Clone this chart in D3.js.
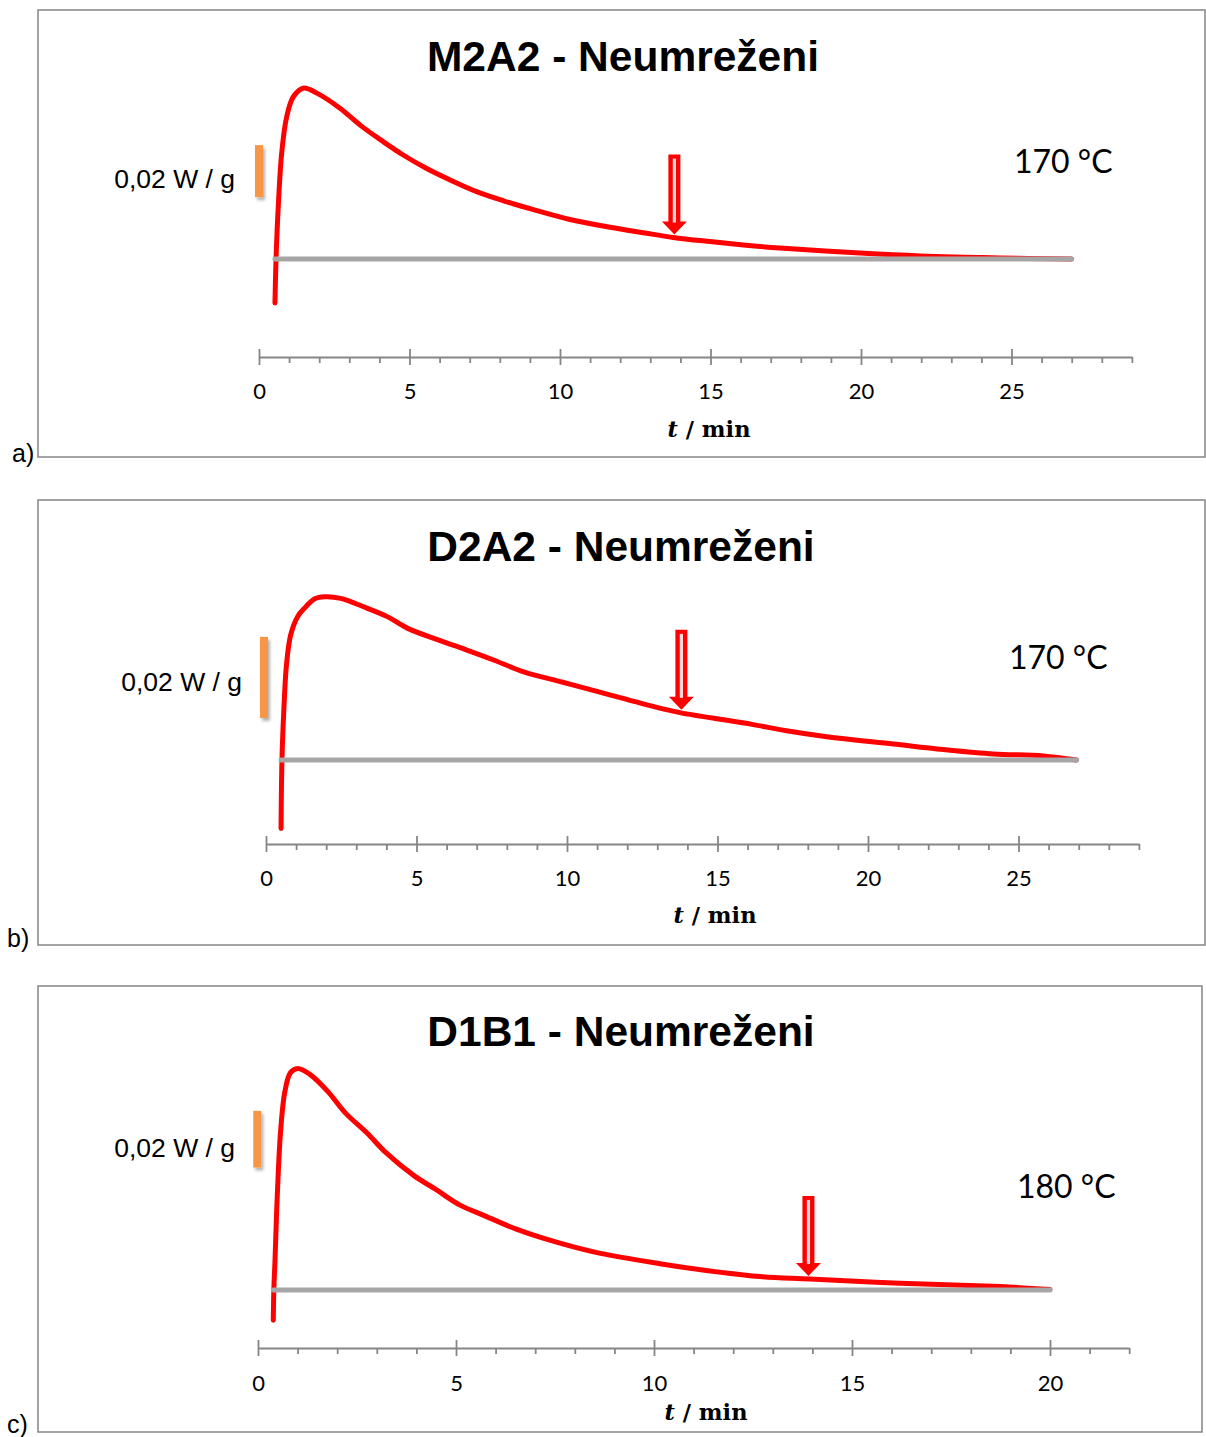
<!DOCTYPE html>
<html>
<head>
<meta charset="utf-8">
<script src="https://cdn.jsdelivr.net/npm/d3@7"></script>
<style>
  body { margin: 0; background: #fff; }
</style>
</head>
<body>
<svg id="chart" width="1206" height="1437"></svg>
<script>
// heat flow curves, t in min, heat flow in mW/g (baseline = 0)
const timeA = [0.53, 0.565, 0.64, 0.754, 0.92, 1.14, 1.47, 1.92, 2.69, 3.36, 4.13, 4.79, 5.57, 6.35,
  7.23, 8.12, 9.23, 10.33, 11.66, 12.77, 13.76, 14.98, 16.09, 17.31, 19.97, 21.96, 24.62, 27.0];
const heatA = [-16.9, -0.4, 20.1, 40.8, 54.7, 62.4, 65.7, 63.8, 58.0, 51.5, 45.1, 40.0, 34.8, 30.4,
  25.9, 22.4, 18.6, 15.2, 12.2, 10.1, 8.3, 6.7, 5.4, 4.2, 2.3, 1.2, 0.4, 0];

const timeB = [0.50, 0.53, 0.59, 0.68, 0.82, 1.05, 1.28, 1.62, 1.96, 2.48, 3.22, 4.03, 4.71, 5.74,
  6.65, 7.56, 8.59, 9.86, 11.12, 12.26, 13.75, 14.89, 16.15, 17.29, 18.63, 20.84, 22.50, 24.16, 25.82, 26.93];
const heatB = [-16.9, 0, 11.9, 23.5, 30.9, 35.4, 37.5, 39.8, 40.3, 39.9, 37.9, 35.4, 32.5, 29.6,
  27.2, 24.7, 21.7, 19.2, 16.7, 14.4, 11.7, 10.3, 8.8, 7.2, 5.75, 3.95, 2.6, 1.5, 1.0, 0];

const timeC = [0.386, 0.40, 0.43, 0.48, 0.57, 0.68, 0.82, 1.00, 1.31, 1.76, 2.21, 2.76, 3.21, 3.93,
  4.47, 5.10, 5.73, 6.54, 7.45, 8.53, 10.15, 11.32, 12.68, 13.94, 16.21, 18.74, 20.0];
const heatC = [-10.7, 0, 10.7, 31.0, 56.0, 70.2, 76.8, 78.3, 76.2, 70.2, 62.5, 55.4, 48.8, 40.5,
  35.7, 30.0, 26.2, 21.4, 17.25, 13.3, 9.3, 6.9, 4.75, 3.9, 2.4, 1.2, 0.2];

const titles = ["M2A2 - Neumreženi", "D2A2 - Neumreženi", "D1B1 - Neumreženi"];
const temps = ["170 °C", "170 °C", "180 °C"];
const letters = ["a)", "b)", "c)"];
const axisMax = [29, 29, 22];      // min
const arrowT = [13.8, 13.8, 13.9]; // min
const scaleBarStart = [23.8, 10.4, 43.3]; // mW/g, bottom of the 0,02 W/g bar
const SCALE_BAR = 20;              // mW/g = 0,02 W / g

// layout (pixels) for each panel
const layout = [
  { box: [38, 10, 1167, 447], x0: 259, ppm: 30.1, axisY: 357, baseY: 259, barPx: 52, barX: 259,
    titleX: 623, titleY: 71, tempX: 1014, tempY: 173, sbX: 235, sbY: 188, xlX: 709, xlY: 437,
    tickY: 399, letX: 12, letY: 462 },
  { box: [38, 500, 1167, 445], x0: 266, ppm: 30.1, axisY: 844, baseY: 760, barPx: 81, barX: 264,
    titleX: 621, titleY: 561, tempX: 1009, tempY: 669, sbX: 242, sbY: 691, xlX: 715, xlY: 923,
    tickY: 886, letX: 7, letY: 947 },
  { box: [38, 986, 1164, 446], x0: 258, ppm: 39.6, axisY: 1348, baseY: 1290, barPx: 56.6, barX: 257.3,
    titleX: 621, titleY: 1046, tempX: 1017, tempY: 1198, sbX: 235, sbY: 1157, xlX: 706, xlY: 1420,
    tickY: 1391, letX: 7, letY: 1433 }
];

const series = [[timeA, heatA], [timeB, heatB], [timeC, heatC]];

const svg = d3.select("#chart");

const defs = svg.append("defs");
defs.append("filter").attr("id", "barShadow")
  .attr("x", "-100%").attr("y", "-20%").attr("width", "300%").attr("height", "150%")
  .append("feDropShadow")
  .attr("dx", 2).attr("dy", 3).attr("stdDeviation", 1.6)
  .attr("flood-color", "#000").attr("flood-opacity", 0.3);

const AXIS_COL = "#868686";

function drawPanel(i) {
  const L = layout[i];
  const [times, heat] = series[i];
  const tMax = axisMax[i];
  const g = svg.append("g");

  g.append("rect")
    .attr("x", L.box[0]).attr("y", L.box[1])
    .attr("width", L.box[2]).attr("height", L.box[3])
    .attr("fill", "none").attr("stroke", "#8c8c8c").attr("stroke-width", 1.6);

  const x = d3.scaleLinear().domain([0, tMax]).range([L.x0, L.x0 + tMax * L.ppm]);
  const y = d3.scaleLinear().domain([0, SCALE_BAR]).range([L.baseY, L.baseY - L.barPx]);

  // x axis: major ticks cross the line, minor ticks point down
  const major = d3.range(0, tMax + 1, 5);
  const minor = d3.range(0, tMax + 1).filter(v => v % 5 !== 0);

  const axMinor = g.append("g")
    .attr("transform", `translate(0,${L.axisY})`)
    .call(d3.axisBottom(x).tickValues(minor).tickSize(6).tickSizeOuter(0).tickFormat(""));
  axMinor.select(".domain").remove();
  axMinor.selectAll(".tick line").attr("stroke", AXIS_COL).attr("stroke-width", 1.8);

  const ax = g.append("g")
    .attr("transform", `translate(0,${L.axisY})`)
    .call(d3.axisBottom(x).tickValues(major).tickSize(8).tickSizeOuter(0).tickFormat(d3.format("d")));
  ax.select(".domain").attr("stroke", AXIS_COL).attr("stroke-width", 2);
  ax.selectAll(".tick line").attr("y1", -8).attr("y2", 8)
    .attr("stroke", AXIS_COL).attr("stroke-width", 1.8);
  ax.selectAll(".tick text")
    .attr("y", L.tickY - L.axisY).attr("dy", 0)
    .attr("font-family", "Lato").attr("font-size", 22).attr("fill", "#000");

  g.append("text")
    .attr("x", L.xlX).attr("y", L.xlY)
    .attr("text-anchor", "middle")
    .attr("font-family", "DejaVu Serif").attr("font-weight", "bold").attr("font-size", 22.5)
    .call(t => {
      t.append("tspan").attr("font-style", "italic").text("t");
      t.append("tspan").text(" / min");
    });

  // scale bar
  const yTop = y(scaleBarStart[i] + SCALE_BAR), yBot = y(scaleBarStart[i]);
  g.append("rect")
    .attr("x", L.barX - 4).attr("y", yTop)
    .attr("width", 8).attr("height", yBot - yTop)
    .attr("fill", "#f79646")
    .attr("filter", "url(#barShadow)");

  g.append("text")
    .attr("x", L.sbX).attr("y", L.sbY)
    .attr("text-anchor", "end")
    .attr("font-family", "Liberation Sans, Arial").attr("font-size", 26.5)
    .text("0,02 W / g");

  // curve, then baseline on top
  const pts = d3.zip(times, heat);
  g.append("path")
    .datum(pts)
    .attr("d", d3.line().x(d => x(d[0])).y(d => y(d[1])).curve(d3.curveCatmullRom.alpha(0.5)))
    .attr("fill", "none").attr("stroke", "#ff0000").attr("stroke-width", 5)
    .attr("stroke-linecap", "round").attr("stroke-linejoin", "round");

  g.append("line")
    .attr("x1", x(times[0])).attr("x2", x(times[times.length - 1]))
    .attr("y1", y(0)).attr("y2", y(0))
    .attr("stroke", "#a6a6a6").attr("stroke-width", 5).attr("stroke-linecap", "round");

  // arrow pointing at the curve
  const at = arrowT[i];
  const j = d3.bisectLeft(times, at);
  const f = (at - times[j - 1]) / (times[j] - times[j - 1]);
  const qAt = heat[j - 1] + f * (heat[j] - heat[j - 1]);
  const ax0 = x(at), tip = y(qAt) - 3;
  const len = 80, headH = 13, headW = 12.5, shaftW = 6;
  g.append("path")
    .attr("d", `M${ax0 - shaftW},${tip - len} H${ax0 + shaftW} V${tip - headH} H${ax0 + headW}
      L${ax0},${tip} L${ax0 - headW},${tip - headH} H${ax0 - shaftW} Z`)
    .attr("fill", "#ff0000");
  g.append("rect")
    .attr("x", ax0 - 1.6).attr("y", tip - len + 4)
    .attr("width", 3.2).attr("height", len - headH - 3)
    .attr("fill", "#fff").attr("opacity", 0.85);

  // texts
  g.append("text")
    .attr("x", L.titleX).attr("y", L.titleY)
    .attr("text-anchor", "middle")
    .attr("font-family", "Liberation Sans, Arial").attr("font-weight", "bold").attr("font-size", 42.5)
    .text(titles[i]);

  g.append("text")
    .attr("x", L.tempX).attr("y", L.tempY)
    .attr("font-family", "Lato").attr("font-size", 32)
    .text(temps[i]);

  g.append("text")
    .attr("x", L.letX).attr("y", L.letY)
    .attr("font-family", "Liberation Sans, Arial").attr("font-size", 25)
    .text(letters[i]);
}

[0, 1, 2].forEach(drawPanel);
</script>
</body>
</html>
